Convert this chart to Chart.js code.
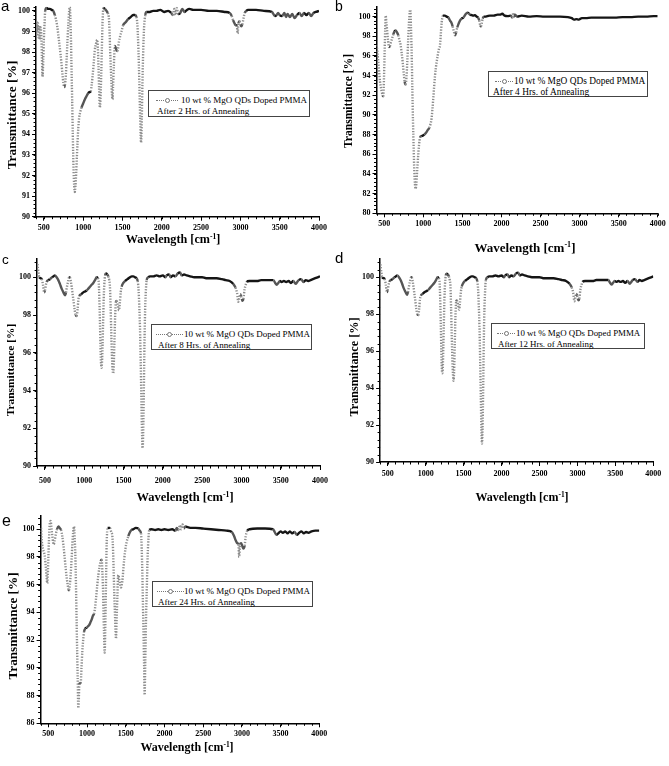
<!DOCTYPE html>
<html>
<head>
<meta charset="utf-8">
<script src="https://cdn.jsdelivr.net/npm/chart.js@4.4.1/dist/chart.umd.min.js"></script>
<style>
  body { margin: 0; background: #fff; }
  #page { position: relative; width: 669px; height: 766px; overflow: hidden; font-family: "Liberation Serif", "Times New Roman", serif; color: #000; }
  canvas { position: absolute; }
  .tag { position: absolute; font-family: "Liberation Sans", Arial, sans-serif; line-height: 1; }
  .ytitle, .xtitle { position: absolute; font-weight: bold; white-space: nowrap; line-height: 1; }
  .ytitle { transform: translate(-50%, -50%) rotate(-90deg); }
  .xtitle { transform: translate(-50%, -50%); }
  .xtitle sup { font-size: 0.62em; vertical-align: 0.55em; line-height: 0; }
  .legend { position: absolute; border: 1px solid #444; background: #fff; box-sizing: border-box; }
  .legend span { position: absolute; white-space: nowrap; line-height: 1; }
  .sample { position: absolute; height: 0; border-top: 1.4px dotted #777; }
  .sample i { position: absolute; left: 50%; top: -3.2px; width: 3px; height: 3px; margin-left: -2.5px; border: 1px solid #777; border-radius: 50%; background: #fff; }
</style>
</head>
<body>
<div id="page"></div>
<script>
// FTIR spectra, 10 wt % MgO QDs doped PMMA
// wavenumber in cm-1, transmittance in %
const xRange = [400, 4000];
const xTicks = [500, 1000, 1500, 2000, 2500, 3000, 3500, 4000];
const yTicksA = [90, 91, 92, 93, 94, 95, 96, 97, 98, 99, 100];
const yTicksB = [80, 82, 84, 86, 88, 90, 92, 94, 96, 98, 100];
const yTicksCD = [90, 92, 94, 96, 98, 100];
const yTicksE = [86, 88, 90, 92, 94, 96, 98, 100];

// a - 2 hrs
const aWave = [405, 415, 425, 432, 440, 449, 458, 466, 475, 483, 492, 500, 510, 517, 534, 555, 576, 600, 619, 640, 653, 668, 682, 697, 712, 725, 737, 748, 758, 768, 780, 790, 801, 812, 822, 830, 837, 843, 851, 860, 868, 877, 886, 894, 902, 911, 920, 928, 938, 949, 964, 979, 1000, 1021, 1042, 1064, 1080, 1097, 1108, 1119, 1133, 1148, 1163, 1178, 1187, 1195, 1203, 1212, 1220, 1229, 1238, 1246, 1258, 1275, 1297, 1312, 1326, 1335, 1343, 1352, 1360, 1367, 1373, 1380, 1390, 1403, 1414, 1424, 1434, 1445, 1455, 1466, 1487, 1508, 1540, 1572, 1604, 1636, 1660, 1678, 1690, 1703, 1714, 1725, 1737, 1746, 1754, 1765, 1775, 1790, 1805, 1847, 1890, 1932, 1980, 2030, 2080, 2120, 2140, 2160, 2175, 2190, 2210, 2235, 2260, 2290, 2320, 2350, 2400, 2500, 2600, 2700, 2800, 2864, 2890, 2907, 2925, 2940, 2955, 2965, 2975, 2990, 3000, 3012, 3025, 3040, 3055, 3075, 3097, 3200, 3300, 3400, 3420, 3440, 3460, 3480, 3500, 3530, 3560, 3580, 3600, 3630, 3660, 3690, 3720, 3750, 3780, 3810, 3840, 3870, 3900, 3930, 3960, 4000];
const aTrans = [99.5, 98.9, 99.4, 98.7, 99.3, 98.6, 99.2, 98.9, 97.8, 96.8, 97.6, 98.6, 99.5, 100.0, 100.15, 100.1, 100.1, 100.05, 100.0, 99.8, 99.6, 99.3, 98.9, 98.4, 97.9, 97.4, 96.9, 96.5, 96.3, 96.4, 96.9, 97.7, 98.6, 99.4, 100.0, 100.2, 99.7, 98.9, 97.4, 95.7, 94.0, 92.4, 91.5, 91.2, 91.5, 92.1, 92.9, 93.6, 94.3, 94.8, 95.1, 95.3, 95.5, 95.7, 95.85, 96.0, 96.05, 96.1, 96.4, 96.8, 97.4, 98.1, 98.4, 98.6, 98.2, 97.3, 96.2, 95.3, 95.7, 96.8, 98.2, 99.4, 100.15, 100.1, 100.0, 99.9, 99.7, 99.1, 98.1, 97.2, 96.5, 95.9, 95.7, 96.3, 97.3, 98.3, 98.2, 98.1, 98.05, 98.2, 98.5, 98.7, 99.0, 99.3, 99.45, 99.6, 99.7, 99.8, 99.8, 99.7, 99.3, 98.1, 96.6, 94.8, 93.6, 94.8, 96.5, 98.2, 99.2, 99.8, 99.95, 99.95, 100.0, 100.0, 100.05, 99.95, 100.0, 99.9, 99.8, 100.1, 99.8, 100.15, 99.85, 99.9, 100.1, 99.95, 100.05, 100.1, 100.05, 100.05, 100.0, 100.0, 99.95, 99.9, 99.75, 99.55, 99.4, 99.3, 99.3, 98.9, 99.4, 99.5, 99.35, 99.25, 99.35, 99.65, 99.9, 100.0, 100.05, 100.05, 100.0, 99.95, 99.85, 99.75, 99.8, 99.9, 99.8, 99.75, 99.9, 99.7, 99.85, 99.7, 99.85, 99.65, 99.8, 99.9, 99.75, 99.9, 99.8, 99.9, 99.75, 99.9, 99.95, 100.0];

// b - 4 hrs
const bWave = [402, 412, 423, 434, 445, 456, 466, 477, 487, 495, 504, 511, 517, 527, 538, 549, 560, 572, 585, 600, 615, 630, 645, 662, 679, 694, 709, 722, 735, 748, 760, 773, 784, 794, 805, 816, 826, 833, 841, 850, 858, 867, 876, 884, 892, 901, 910, 918, 926, 935, 945, 957, 974, 991, 1012, 1034, 1055, 1076, 1092, 1106, 1116, 1127, 1138, 1149, 1160, 1170, 1181, 1191, 1202, 1213, 1224, 1234, 1243, 1251, 1275, 1298, 1320, 1341, 1358, 1375, 1390, 1405, 1420, 1434, 1452, 1469, 1490, 1511, 1537, 1563, 1580, 1597, 1620, 1640, 1660, 1682, 1700, 1716, 1728, 1738, 1748, 1759, 1775, 1789, 1820, 1853, 1900, 1950, 1981, 2010, 2040, 2080, 2120, 2140, 2150, 2160, 2175, 2200, 2260, 2350, 2450, 2550, 2650, 2750, 2850, 2900, 2930, 2960, 2990, 3030, 3080, 3150, 3250, 3350, 3450, 3550, 3650, 3750, 3850, 3950, 4000];
const bTrans = [97.1, 96.3, 95.4, 94.4, 93.4, 92.8, 92.4, 92.0, 91.9, 93.5, 96.4, 98.6, 100.1, 99.4, 98.4, 97.5, 96.9, 97.0, 97.4, 97.8, 98.2, 98.5, 98.6, 98.4, 98.1, 97.6, 97.1, 96.3, 95.4, 94.3, 93.4, 93.1, 93.9, 95.4, 97.5, 99.4, 100.5, 100.7, 99.0, 96.4, 93.0, 89.4, 86.6, 84.3, 83.0, 82.5, 83.0, 84.0, 85.0, 86.0, 87.0, 87.7, 87.85, 87.9, 88.0, 88.2, 88.45, 88.7, 89.1, 89.7, 90.6, 91.7, 92.9, 94.0, 94.8, 95.4, 95.9, 96.4, 96.8, 97.1, 98.3, 99.4, 99.9, 100.1, 100.1, 100.0, 99.9, 99.6, 99.4, 99.0, 98.5, 98.1, 98.4, 98.9, 99.3, 99.6, 99.8, 99.9, 100.2, 100.4, 100.35, 100.2, 100.15, 100.1, 100.15, 100.0, 99.9, 99.6, 99.1, 99.0, 99.3, 99.8, 100.0, 100.0, 100.05, 100.1, 100.1, 100.2, 100.2, 100.3, 100.1, 100.05, 100.1, 99.9, 100.4, 100.0, 100.2, 100.0, 100.1, 100.0, 100.05, 100.0, 100.0, 100.0, 99.95, 99.85, 99.7, 99.75, 99.7, 99.85, 99.85, 99.9, 99.9, 99.9, 99.9, 99.95, 99.95, 100.0, 100.0, 100.05, 100.05];

// c - 8 hrs
const cWave = [405, 415, 428, 445, 460, 475, 490, 500, 510, 521, 542, 564, 590, 610, 627, 648, 670, 690, 712, 735, 755, 768, 780, 795, 808, 818, 828, 840, 852, 865, 877, 890, 903, 915, 925, 937, 960, 988, 1010, 1030, 1052, 1073, 1094, 1115, 1137, 1158, 1172, 1183, 1192, 1200, 1207, 1213, 1220, 1226, 1233, 1240, 1248, 1255, 1265, 1276, 1292, 1306, 1318, 1327, 1335, 1343, 1352, 1361, 1368, 1375, 1384, 1393, 1403, 1412, 1422, 1432, 1442, 1452, 1464, 1476, 1497, 1518, 1550, 1582, 1605, 1624, 1645, 1665, 1680, 1692, 1700, 1709, 1718, 1727, 1735, 1743, 1750, 1757, 1764, 1772, 1783, 1794, 1815, 1836, 1880, 1920, 1960, 2000, 2030, 2049, 2080, 2100, 2130, 2160, 2190, 2219, 2240, 2270, 2303, 2350, 2400, 2450, 2500, 2550, 2600, 2685, 2750, 2800, 2850, 2897, 2925, 2945, 2961, 2972, 2985, 2995, 3005, 3015, 3025, 3040, 3055, 3067, 3100, 3152, 3200, 3250, 3300, 3350, 3406, 3430, 3449, 3470, 3490, 3512, 3540, 3570, 3600, 3630, 3660, 3690, 3710, 3730, 3760, 3790, 3820, 3850, 3880, 3910, 3940, 3970, 4000];
const cTrans = [100.7, 100.3, 100.0, 99.95, 99.9, 99.6, 99.2, 99.3, 99.55, 99.75, 99.85, 99.9, 100.0, 100.05, 100.1, 100.0, 99.85, 99.65, 99.4, 99.2, 99.05, 99.2, 99.5, 99.8, 100.0, 100.0, 99.8, 99.5, 99.1, 98.7, 98.3, 98.0, 97.95, 98.3, 98.8, 99.0, 99.1, 99.2, 99.25, 99.3, 99.4, 99.5, 99.6, 99.7, 99.85, 100.0, 99.95, 99.8, 98.9, 97.6, 96.3, 95.5, 95.2, 95.5, 96.4, 97.6, 98.9, 99.6, 100.1, 100.2, 100.15, 100.05, 99.85, 99.5, 98.5, 97.2, 95.9, 95.1, 94.9, 95.3, 96.6, 97.9, 98.7, 98.75, 98.6, 98.4, 98.25, 98.6, 99.2, 99.5, 99.7, 99.8, 99.9, 100.0, 100.05, 100.05, 100.0, 99.95, 99.8, 99.3, 98.5, 97.4, 95.6, 93.6, 91.8, 90.95, 91.8, 93.6, 95.8, 97.8, 99.2, 99.85, 100.0, 100.05, 100.05, 100.1, 100.05, 100.1, 100.0, 100.1, 100.15, 100.0, 100.1, 100.05, 100.2, 100.25, 100.1, 100.15, 100.1, 100.05, 100.0, 100.0, 100.0, 99.95, 99.95, 99.95, 99.9, 99.85, 99.8, 99.65, 99.45, 99.15, 98.7, 98.9, 99.1, 99.0, 98.85, 98.75, 98.85, 99.35, 99.6, 99.75, 99.8, 99.8, 99.8, 99.85, 99.85, 99.85, 99.85, 99.7, 99.6, 99.7, 99.8, 99.75, 99.8, 99.75, 99.8, 99.7, 99.8, 99.65, 99.75, 99.85, 99.9, 99.75, 99.85, 99.8, 99.85, 99.9, 99.95, 100.0, 100.05];

// d - 12 hrs
const dWave = [405, 415, 428, 445, 460, 475, 490, 500, 510, 521, 542, 564, 590, 610, 627, 648, 670, 690, 712, 735, 755, 768, 780, 795, 808, 818, 828, 840, 852, 865, 877, 890, 903, 915, 925, 937, 960, 988, 1010, 1030, 1052, 1073, 1094, 1115, 1137, 1158, 1172, 1183, 1192, 1200, 1207, 1213, 1220, 1226, 1233, 1240, 1248, 1255, 1265, 1276, 1292, 1306, 1318, 1327, 1335, 1343, 1352, 1361, 1368, 1375, 1384, 1393, 1403, 1412, 1422, 1432, 1442, 1452, 1464, 1476, 1497, 1518, 1550, 1582, 1605, 1624, 1645, 1665, 1680, 1692, 1700, 1709, 1718, 1727, 1735, 1743, 1750, 1757, 1764, 1772, 1783, 1794, 1815, 1836, 1880, 1920, 1960, 2000, 2030, 2049, 2080, 2100, 2130, 2160, 2190, 2219, 2240, 2270, 2303, 2350, 2400, 2450, 2500, 2550, 2600, 2685, 2750, 2800, 2850, 2897, 2925, 2945, 2961, 2972, 2985, 2995, 3005, 3015, 3025, 3040, 3055, 3067, 3100, 3152, 3200, 3250, 3300, 3350, 3406, 3430, 3449, 3470, 3490, 3512, 3540, 3570, 3600, 3630, 3660, 3690, 3710, 3730, 3760, 3790, 3820, 3850, 3880, 3910, 3940, 3970, 4000];
const dTrans = [100.7, 100.3, 100.0, 99.95, 99.9, 99.6, 99.2, 99.3, 99.55, 99.75, 99.85, 99.9, 100.0, 100.05, 100.1, 100.0, 99.85, 99.65, 99.4, 99.2, 99.05, 99.2, 99.5, 99.8, 100.0, 100.0, 99.8, 99.5, 99.1, 98.7, 98.3, 98.0, 97.95, 98.3, 98.8, 99.0, 99.1, 99.2, 99.25, 99.3, 99.4, 99.5, 99.6, 99.7, 99.85, 100.0, 99.95, 99.8, 98.8, 97.4, 96.0, 95.1, 94.8, 95.1, 96.2, 97.5, 98.9, 99.6, 100.1, 100.2, 100.15, 100.05, 99.85, 99.5, 98.4, 97.0, 95.6, 94.7, 94.4, 94.9, 96.4, 97.9, 98.7, 98.75, 98.6, 98.4, 98.25, 98.6, 99.2, 99.5, 99.7, 99.8, 99.9, 100.0, 100.05, 100.05, 100.0, 99.95, 99.8, 99.3, 98.5, 97.4, 95.6, 93.6, 91.8, 91.0, 91.8, 93.6, 95.8, 97.8, 99.2, 99.85, 100.0, 100.05, 100.05, 100.1, 100.05, 100.1, 100.0, 100.1, 100.15, 100.0, 100.1, 100.05, 100.2, 100.25, 100.1, 100.15, 100.1, 100.05, 100.0, 100.0, 100.0, 99.95, 99.95, 99.95, 99.9, 99.85, 99.8, 99.65, 99.45, 99.15, 98.7, 98.9, 99.1, 99.0, 98.85, 98.75, 98.85, 99.35, 99.6, 99.75, 99.8, 99.8, 99.8, 99.85, 99.85, 99.85, 99.85, 99.7, 99.6, 99.7, 99.8, 99.75, 99.8, 99.75, 99.8, 99.7, 99.8, 99.65, 99.75, 99.85, 99.9, 99.75, 99.85, 99.8, 99.85, 99.9, 99.95, 100.0, 100.05];

// e - 24 hrs
const eWave = [405, 412, 420, 435, 446, 457, 470, 478, 485, 492, 500, 508, 517, 530, 540, 552, 560, 569, 582, 595, 612, 629, 646, 664, 680, 694, 710, 724, 737, 750, 760, 767, 778, 788, 800, 810, 821, 831, 840, 849, 857, 866, 873, 879, 887, 893, 900, 909, 918, 928, 939, 950, 961, 978, 995, 1012, 1029, 1045, 1060, 1075, 1090, 1103, 1116, 1131, 1146, 1161, 1176, 1189, 1198, 1206, 1213, 1219, 1228, 1234, 1240, 1247, 1253, 1266, 1280, 1296, 1312, 1327, 1336, 1344, 1352, 1361, 1368, 1374, 1382, 1391, 1398, 1404, 1415, 1426, 1438, 1449, 1460, 1470, 1481, 1496, 1512, 1533, 1555, 1576, 1598, 1630, 1662, 1680, 1697, 1706, 1714, 1722, 1731, 1738, 1744, 1752, 1761, 1772, 1783, 1794, 1804, 1834, 1880, 1920, 1960, 2000, 2050, 2100, 2140, 2160, 2180, 2200, 2215, 2235, 2250, 2270, 2300, 2350, 2400, 2500, 2600, 2700, 2800, 2870, 2900, 2920, 2940, 2955, 2965, 2975, 2990, 3005, 3020, 3035, 3050, 3070, 3100, 3200, 3300, 3400, 3420, 3445, 3470, 3500, 3530, 3560, 3590, 3620, 3650, 3680, 3710, 3740, 3770, 3800, 3830, 3860, 3900, 3950, 4000];
const eTrans = [100.1, 99.4, 98.9, 98.5, 98.3, 97.9, 97.1, 96.5, 96.1, 96.6, 97.9, 99.2, 100.3, 100.6, 100.1, 99.5, 99.1, 98.9, 99.2, 99.6, 100.0, 100.2, 100.1, 99.95, 99.5, 98.9, 98.0, 97.2, 96.5, 96.0, 95.65, 95.6, 96.0, 96.7, 97.8, 98.9, 99.8, 100.2, 99.4, 98.1, 96.0, 93.1, 91.0, 89.3, 87.1, 87.6, 88.8, 88.9, 88.9, 90.0, 91.2, 92.0, 92.6, 92.85, 92.9, 93.0, 93.1, 93.3, 93.5, 93.75, 93.9, 94.3, 95.0, 95.9, 96.7, 97.3, 97.7, 97.8, 96.9, 95.7, 94.0, 92.6, 91.1, 92.5, 94.5, 96.9, 98.9, 100.1, 100.1, 100.1, 99.8, 99.5, 98.5, 96.9, 95.3, 93.8, 92.7, 92.1, 93.5, 95.0, 96.3, 96.7, 96.4, 96.1, 95.8, 96.0, 96.5, 97.2, 97.9, 98.6, 99.1, 99.5, 99.8, 99.95, 100.0, 100.1, 100.05, 99.9, 99.7, 98.6, 96.9, 94.6, 92.1, 89.9, 88.05, 90.5, 93.3, 95.8, 98.1, 99.4, 99.95, 100.0, 99.95, 100.0, 99.95, 100.0, 99.95, 100.0, 99.9, 100.1, 99.95, 100.3, 100.0, 100.35, 100.05, 100.2, 100.15, 100.1, 100.1, 100.05, 100.0, 99.95, 99.9, 99.8, 99.5, 99.2, 99.0, 98.9, 98.0, 98.9, 99.0, 98.8, 98.6, 98.8, 99.5, 99.9, 100.0, 100.05, 100.05, 100.0, 99.85, 99.6, 99.7, 99.85, 99.75, 99.85, 99.7, 99.85, 99.7, 99.8, 99.6, 99.75, 99.85, 99.7, 99.8, 99.75, 99.85, 99.9, 99.9];

const legendTitle = '10 wt % MgO QDs Doped PMMA';

const page = document.getElementById('page');

// how steep a stretch is on screen decides how it looks:
// flat parts dark and solid, steep walls grey and dotted
function slope(ctx) {
  const dx = Math.abs(ctx.p1.x - ctx.p0.x) || 0.01;
  return Math.abs(ctx.p1.y - ctx.p0.y) / dx;
}

const minorTicks = {
  id: 'minorTicks',
  afterDraw(chart, args, opts) {
    const c = chart.ctx, x = chart.scales.x, y = chart.scales.y;
    c.save();
    c.strokeStyle = '#000';
    c.lineWidth = 1;
    c.beginPath();
    for (let k = 0; ; k++) {
      const v = x.min + k * opts.xStep;
      if (v > x.max + 1e-6) break;
      const px = Math.round(x.getPixelForValue(v)) + 0.5;
      c.moveTo(px, x.top);
      c.lineTo(px, x.top + 2.5);
    }
    for (let k = 0; ; k++) {
      const v = y.min + k * opts.yStep;
      if (v > y.max + 1e-6) break;
      const py = Math.round(y.getPixelForValue(v)) + 0.5;
      c.moveTo(y.right - 2.5, py);
      c.lineTo(y.right, py);
    }
    c.stroke();
    c.restore();
  }
};

function addText(cls, html, left, top, size) {
  const d = document.createElement('div');
  d.className = cls;
  d.innerHTML = html;
  d.style.left = left + 'px';
  d.style.top = top + 'px';
  d.style.fontSize = size + 'px';
  page.appendChild(d);
  return d;
}

function makePanel(p) {
  const cv = document.createElement('canvas');
  cv.width = p.w;
  cv.height = p.h;
  cv.style.left = p.left + 'px';
  cv.style.top = p.top + 'px';
  page.appendChild(cv);

  const tickFont = { family: 'Liberation Serif', size: 8, weight: 'bold' };

  new Chart(cv, {
    type: 'line',
    data: {
      datasets: [{
        data: p.wave.map((w, i) => ({ x: w, y: p.trans[i] })),
        borderColor: '#151515',
        borderWidth: 2.4,
        pointRadius: 0,
        cubicInterpolationMode: 'monotone',
        segment: {
          borderColor: ctx => {
            const s = slope(ctx);
            return s > 3 ? '#8d8d8d' : (s > 0.9 ? '#555' : '#151515');
          },
          borderDash: ctx => slope(ctx) > 3 ? [1.3, 1.5] : undefined
        }
      }]
    },
    options: {
      responsive: false,
      animation: false,
      devicePixelRatio: 1,
      layout: { padding: { top: p.padTop, right: p.padRight, left: 0, bottom: 0 } },
      plugins: {
        legend: { display: false },
        tooltip: { enabled: false },
        minorTicks: { xStep: 100, yStep: p.yMinor }
      },
      scales: {
        x: {
          type: 'linear',
          min: xRange[0],
          max: xRange[1],
          afterBuildTicks: s => { s.ticks = xTicks.map(v => ({ value: v })); },
          afterFit: s => { s.height = p.xh; },
          ticks: {
            maxRotation: 0, autoSkip: false,
            padding: p.xPad, font: tickFont, color: '#000',
            callback: v => String(v)
          },
          grid: { drawOnChartArea: false, drawTicks: true, tickLength: 4, color: '#000', lineWidth: 1 },
          border: { display: true, color: '#000', width: 1.5 }
        },
        y: {
          min: p.yRange[0],
          max: p.yRange[1],
          afterBuildTicks: s => { s.ticks = p.yTicks.map(v => ({ value: v })); },
          afterFit: s => { s.width = p.yw; },
          ticks: {
            autoSkip: false, padding: 2,
            font: tickFont, color: '#000',
            callback: v => String(v)
          },
          grid: { drawOnChartArea: false, drawTicks: true, tickLength: 4, color: '#000', lineWidth: 1 },
          border: { display: true, color: '#000', width: 1.5 }
        }
      }
    },
    plugins: [minorTicks]
  });

  // panel letter, axis titles
  addText('tag', p.letter, p.tag[0], p.tag[1], p.tag[2]);
  addText('ytitle', 'Transmittance [%]', p.yt[0], p.yt[1], p.yt[2]);
  addText('xtitle', 'Wavelength [cm<sup>-1</sup>]', p.xt[0], p.xt[1], p.xt[2]);

  // legend box
  const L = p.leg;
  const box = document.createElement('div');
  box.className = 'legend';
  box.style.left = L.x + 'px';
  box.style.top = L.y + 'px';
  box.style.width = L.w + 'px';
  box.style.height = L.h + 'px';
  box.style.fontSize = L.fs + 'px';
  box.innerHTML =
    '<div class="sample" style="left:' + L.s[0] + 'px;width:' + L.s[1] + 'px;top:9px"><i></i></div>' +
    '<span style="left:' + L.t1 + 'px;top:4.5px">' + legendTitle + '</span>' +
    '<span style="left:' + L.t2 + 'px;top:16px">' + p.note + '</span>';
  page.appendChild(box);
}

const panels = [
  { letter: 'a', note: 'After 2 Hrs. of Annealing', wave: aWave, trans: aTrans,
    left: 0, top: 0, w: 335, h: 250, yw: 36, padTop: 6.2, padRight: 16, xh: 33.3, xPad: 2,
    yRange: [90, 100.2], yTicks: yTicksA, yMinor: 0.2,
    tag: [1, -2, 15], yt: [12, 115, 13.4], xt: [173, 239, 12.2],
    leg: { x: 148, y: 90, w: 162, h: 27, fs: 9, s: [7, 22], t1: 32, t2: 8 } },
  { letter: 'b', note: 'After 4 Hrs. of Annealing', wave: bWave, trans: bTrans,
    left: 335, top: 0, w: 334, h: 250, yw: 41.5, padTop: 4, padRight: 11.3, xh: 36.7, xPad: 2,
    yRange: [80, 101], yTicks: yTicksB, yMinor: 0.4,
    tag: [335, -1, 14], yt: [349, 101, 11.6], xt: [525, 247, 13],
    leg: { x: 488, y: 71, w: 160, h: 26, fs: 9.4, s: [6, 18], t1: 25, t2: 4 } },
  { letter: 'c', note: 'After 8 Hrs. of Annealing', wave: cWave, trans: cTrans,
    left: 0, top: 250, w: 335, h: 250, yw: 37.1, padTop: 8.4, padRight: 15, xh: 34, xPad: 6,
    yRange: [90, 101], yTicks: yTicksCD, yMinor: 0.4,
    tag: [2, 253, 13.5], yt: [11, 370, 11.4], xt: [185, 497, 12.5],
    leg: { x: 151, y: 324, w: 161, h: 26, fs: 9, s: [4, 27], t1: 32, t2: 6 } },
  { letter: 'd', note: 'After 12 Hrs. of Annealing', wave: dWave, trans: dTrans,
    left: 335, top: 250, w: 334, h: 250, yw: 45.1, padTop: 8.8, padRight: 15.7, xh: 38, xPad: 3,
    yRange: [90, 101], yTicks: yTicksCD, yMinor: 0.4,
    tag: [335, 249.5, 15], yt: [354, 367, 12.2], xt: [522, 497, 12],
    leg: { x: 491, y: 323, w: 154, h: 26, fs: 8.9, s: [5, 18], t1: 24, t2: 6 } },
  { letter: 'e', note: 'After 24 Hrs. of Annealing', wave: eWave, trans: eTrans,
    left: 0, top: 500, w: 335, h: 266, yw: 40.6, padTop: 15.4, padRight: 15.7, xh: 42.7, xPad: 2,
    yRange: [86, 101], yTicks: yTicksE, yMinor: 0.4,
    tag: [2, 512.5, 16], yt: [13, 626, 13.2], xt: [187, 747, 12],
    leg: { x: 152, y: 581, w: 161, h: 26, fs: 9, s: [4, 27], t1: 31, t2: 5 } }
];

panels.forEach(makePanel);
</script>
</body>
</html>
